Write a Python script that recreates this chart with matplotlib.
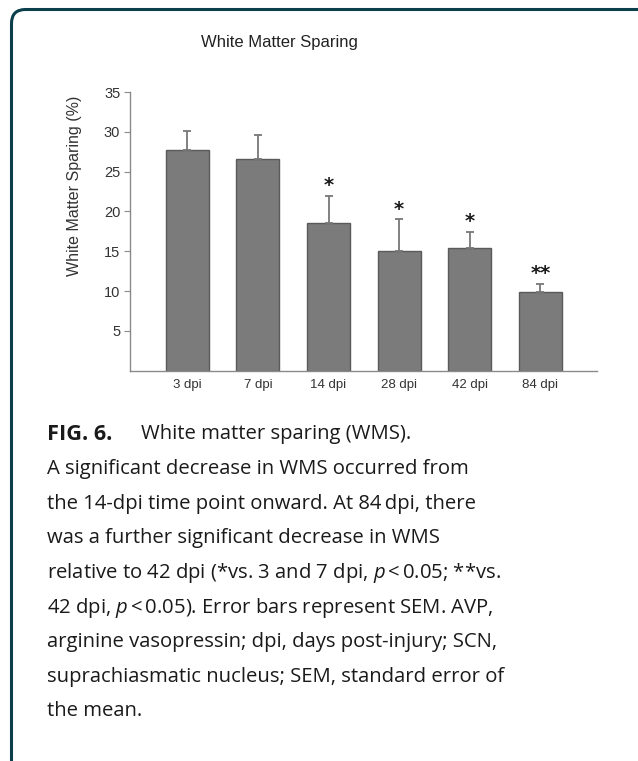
import numpy as np
import matplotlib
matplotlib.use("Agg")
import matplotlib.pyplot as plt
from matplotlib.patches import FancyBboxPatch

# data
groups = ["3 dpi", "7 dpi", "14 dpi", "28 dpi", "42 dpi", "84 dpi"]
wms_mean = [27.7, 26.6, 18.5, 15.0, 15.4, 9.85]
wms_sem = [2.4, 3.0, 3.4, 4.0, 2.0, 1.1]
sig_marks = ["", "", "*", "*", "*", "**"]
y_ticks = [5, 10, 15, 20, 25, 30, 35]

caption_head = "FIG. 6."
caption_title = "White matter sparing (WMS)."
caption_lines = [
    "A significant decrease in WMS occurred from",
    "the 14-dpi time point onward. At 84\u2009dpi, there",
    "was a further significant decrease in WMS",
    r"relative to 42 dpi (*vs. 3 and 7 dpi, $p$$\,$<$\,$0.05; **vs.",
    r"42 dpi, $p$$\,$<$\,$0.05). Error bars represent SEM. AVP,",
    "arginine vasopressin; dpi, days post-injury; SCN,",
    "suprachiasmatic nucleus; SEM, standard error of",
    "the mean.",
]

W, H = 638, 761
CAP_FONT = "Open Sans"
CAP_SIZE = 14.6
plt.rcParams["mathtext.fontset"] = "custom"
plt.rcParams["mathtext.rm"] = CAP_FONT
plt.rcParams["mathtext.it"] = CAP_FONT + ":italic"
plt.rcParams["mathtext.bf"] = CAP_FONT + ":bold"

fig = plt.figure(figsize=(W / 100, H / 100), dpi=100)
fig.patch.set_facecolor("white")

# rounded frame (only top/left visible, rest runs off the page)
frame = FancyBboxPatch((11.5, -20), 700, H - 9.5 + 20,
                       boxstyle="round,pad=0,rounding_size=14",
                       transform=None, fill=False, edgecolor="#0b3f4c",
                       linewidth=2.2)
fig.patches.append(frame)

ax = fig.add_axes([130 / W, (H - 370.7) / H, (597 - 130) / W, (370.7 - 92) / H])
x = np.arange(len(groups))
ax.bar(x, wms_mean, width=0.61, color="#7b7b7b", edgecolor="#5a5a5a", linewidth=1)
ax.errorbar(x, wms_mean, yerr=[np.zeros(len(x)), wms_sem], fmt="none",
            ecolor="#777777", elinewidth=1.3, capsize=3, capthick=1.3)
for xi, m, s, mark in zip(x, wms_mean, wms_sem, sig_marks):
    if mark:
        ax.text(xi, m + s + 1.3, mark, ha="center", va="center",
                fontsize=14, fontweight="bold", fontfamily="DejaVu Sans",
                color="#1a1a1a")

ax.set_xlim(-0.81, 5.8)
ax.set_ylim(0, 35)
ax.set_yticks(y_ticks)
ax.set_xticks(x)
ax.set_xticklabels(groups)
for s in ["top", "right"]:
    ax.spines[s].set_visible(False)
for s in ["left", "bottom"]:
    ax.spines[s].set_color("#8a8a8a")
    ax.spines[s].set_linewidth(1)
ax.tick_params(axis="y", length=4, color="#8a8a8a", labelsize=10.5, pad=3,
               labelcolor="#333333")
ax.tick_params(axis="x", length=0, labelsize=9.5, pad=6, labelcolor="#333333")
for lab in ax.get_xticklabels() + ax.get_yticklabels():
    lab.set_fontfamily("Liberation Sans")
ax.set_ylabel("White Matter Sparing (%)", fontsize=11.5, fontfamily="Liberation Sans",
              color="#333333")
ax.yaxis.set_label_coords(-0.102, 0.665)

fig.text(279 / W, 1 - 43 / H, "White Matter Sparing", ha="center", va="center",
         fontsize=12, fontfamily="Liberation Sans", color="#222222")

x0 = 46.5
y0 = 439.5
step = 34.6
fig.text(x0 / W, 1 - y0 / H, caption_head, ha="left", va="baseline",
         fontsize=CAP_SIZE + 1, fontweight="bold", fontfamily=CAP_FONT,
         color="#1a1a1a")
fig.text(141 / W, 1 - y0 / H, caption_title, ha="left", va="baseline",
         fontsize=CAP_SIZE, fontfamily=CAP_FONT, color="#1a1a1a")
for i, line in enumerate(caption_lines, start=1):
    fig.text(x0 / W, 1 - (y0 + i * step) / H, line, ha="left", va="baseline",
             fontsize=CAP_SIZE, fontfamily=CAP_FONT, color="#1a1a1a")

fig.savefig("out.png", dpi=100)
